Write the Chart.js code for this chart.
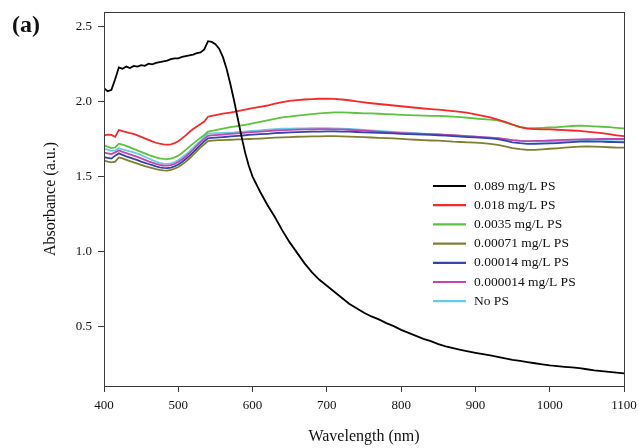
<!DOCTYPE html>
<html>
<head>
<meta charset="utf-8">
<title>Absorbance spectra</title>
<script src="https://cdn.jsdelivr.net/npm/chart.js@4"></script>
<style>
  html, body { margin: 0; padding: 0; background: #fff; }
</style>
</head>
<body>
<canvas id="absChart" width="639" height="448"></canvas>
<script>
// wavelength grid (nm): 5 nm up to 600, then 10 nm
const wavelengths = [
  400, 405, 410, 415, 420, 425, 430, 435, 440, 445, 450, 455, 460, 465, 470, 475, 480, 485, 490, 495,
  500, 505, 510, 515, 520, 525, 530, 535, 540, 545, 550, 555, 560, 565, 570, 575, 580, 585, 590, 595, 600,
  610, 620, 630, 640, 650, 660, 670, 680, 690, 700,
  710, 720, 730, 740, 750, 760, 770, 780, 790, 800,
  810, 820, 830, 840, 850, 860, 870, 880, 890, 900,
  910, 920, 930, 940, 950, 960, 970, 980, 990, 1000,
  1010, 1020, 1030, 1040, 1050, 1060, 1070, 1080, 1090, 1100
];

const seriesNames = ['0.089 mg/L PS', '0.018 mg/L PS', '0.0035 mg/L PS', '0.00071 mg/L PS',
  '0.00014 mg/L PS', '0.000014 mg/L PS', 'No PS'];

const ps0089 = [
  2.09, 2.07, 2.08, 2.15, 2.23, 2.22, 2.235, 2.225, 2.24, 2.235, 2.245, 2.24, 2.255, 2.25, 2.26, 2.265, 2.27, 2.275, 2.285, 2.29,
  2.29, 2.30, 2.305, 2.31, 2.315, 2.325, 2.33, 2.35, 2.405, 2.40, 2.385, 2.355, 2.30, 2.22, 2.12, 2.01, 1.89, 1.77, 1.66, 1.57, 1.50,
  1.40, 1.31, 1.23, 1.14, 1.06, 0.99, 0.92, 0.86, 0.81, 0.77,
  0.73, 0.69, 0.65, 0.62, 0.59, 0.565, 0.545, 0.52, 0.50, 0.475,
  0.455, 0.435, 0.415, 0.40, 0.38, 0.365, 0.353, 0.342, 0.332, 0.322,
  0.313, 0.304, 0.295, 0.285, 0.275, 0.268, 0.26, 0.252, 0.245, 0.238,
  0.233, 0.228, 0.224, 0.219, 0.212, 0.205, 0.20, 0.195, 0.19, 0.185
];
const ps0018 = [
  1.775, 1.78, 1.778, 1.765, 1.81, 1.803, 1.797, 1.79, 1.785, 1.775, 1.765, 1.755, 1.745, 1.735, 1.726, 1.72, 1.715, 1.713, 1.715, 1.724,
  1.736, 1.755, 1.775, 1.798, 1.818, 1.835, 1.851, 1.868, 1.90, 1.905, 1.91, 1.915, 1.92, 1.924, 1.928, 1.932, 1.937, 1.942, 1.947, 1.952, 1.957,
  1.966, 1.975, 1.987, 1.998, 2.006, 2.011, 2.015, 2.018, 2.02, 2.02,
  2.019, 2.015, 2.01, 2.003, 1.996, 1.99, 1.985, 1.98, 1.975, 1.97,
  1.965, 1.96, 1.955, 1.951, 1.947, 1.942, 1.937, 1.932, 1.925, 1.915,
  1.905, 1.895, 1.88, 1.865, 1.848, 1.83, 1.82, 1.817, 1.815, 1.815,
  1.813, 1.811, 1.808, 1.805, 1.80, 1.795, 1.79, 1.783, 1.776, 1.77
];
const ps00035 = [
  1.707, 1.70, 1.69, 1.695, 1.72, 1.714, 1.705, 1.695, 1.685, 1.675, 1.665, 1.655, 1.645, 1.636, 1.628, 1.622, 1.618, 1.617, 1.62, 1.628,
  1.64, 1.658, 1.678, 1.70, 1.72, 1.74, 1.76, 1.778, 1.80, 1.805, 1.81, 1.815, 1.82, 1.825, 1.83, 1.834, 1.838, 1.842, 1.846, 1.85, 1.855,
  1.865, 1.876, 1.886, 1.895, 1.901, 1.907, 1.912, 1.917, 1.922, 1.926,
  1.929, 1.929, 1.927, 1.925, 1.923, 1.922, 1.92, 1.918, 1.915, 1.913,
  1.911, 1.909, 1.907, 1.906, 1.905, 1.903, 1.90, 1.897, 1.893, 1.888,
  1.884, 1.88, 1.875, 1.862, 1.846, 1.832, 1.824, 1.823, 1.825, 1.828,
  1.83, 1.834, 1.838, 1.84, 1.839, 1.836, 1.833, 1.83, 1.826, 1.822
];
const ps000071 = [
  1.607, 1.60, 1.595, 1.60, 1.628, 1.621, 1.612, 1.603, 1.595, 1.587, 1.578, 1.57, 1.563, 1.556, 1.549, 1.544, 1.541, 1.54, 1.544, 1.552,
  1.564, 1.58, 1.60, 1.621, 1.645, 1.67, 1.695, 1.716, 1.737, 1.74, 1.742, 1.743, 1.744, 1.745, 1.746, 1.747, 1.748, 1.749, 1.75, 1.751, 1.752,
  1.754, 1.757, 1.76, 1.762, 1.764, 1.766, 1.767, 1.768, 1.769, 1.77,
  1.77, 1.769, 1.767, 1.765, 1.763, 1.761, 1.759, 1.757, 1.755, 1.752,
  1.749, 1.746, 1.743, 1.741, 1.74, 1.737, 1.733, 1.731, 1.729, 1.727,
  1.723, 1.718, 1.712, 1.702, 1.69, 1.683, 1.678, 1.678, 1.682, 1.686,
  1.689, 1.693, 1.697, 1.70, 1.702, 1.70, 1.698, 1.696, 1.694, 1.693
];
const ps000014 = [
  1.629, 1.625, 1.62, 1.64, 1.655, 1.645, 1.635, 1.627, 1.618, 1.61, 1.60, 1.592, 1.584, 1.576, 1.568, 1.562, 1.558, 1.557, 1.56, 1.568,
  1.58, 1.597, 1.617, 1.638, 1.662, 1.687, 1.712, 1.735, 1.755, 1.758, 1.76, 1.762, 1.764, 1.766, 1.768, 1.77, 1.772, 1.774, 1.776, 1.778, 1.78,
  1.783, 1.786, 1.79, 1.793, 1.795, 1.797, 1.799, 1.80, 1.801, 1.802,
  1.802, 1.801, 1.80, 1.798, 1.796, 1.794, 1.792, 1.79, 1.788, 1.786,
  1.784, 1.782, 1.78, 1.778, 1.776, 1.773, 1.77, 1.767, 1.764, 1.762,
  1.759, 1.755, 1.75, 1.74, 1.729, 1.723, 1.719, 1.718, 1.72, 1.722,
  1.724, 1.727, 1.73, 1.733, 1.735, 1.734, 1.733, 1.731, 1.73, 1.729
];
const ps0000014 = [
  1.66, 1.655, 1.65, 1.662, 1.675, 1.665, 1.657, 1.648, 1.64, 1.632, 1.622, 1.612, 1.602, 1.593, 1.585, 1.578, 1.574, 1.573, 1.576, 1.585,
  1.597, 1.614, 1.634, 1.656, 1.68, 1.705, 1.73, 1.752, 1.772, 1.775, 1.777, 1.779, 1.781, 1.783, 1.785, 1.787, 1.789, 1.791, 1.793, 1.795, 1.797,
  1.80, 1.804, 1.808, 1.81, 1.812, 1.814, 1.815, 1.816, 1.817, 1.817,
  1.816, 1.815, 1.813, 1.81, 1.807, 1.804, 1.80, 1.797, 1.794, 1.791,
  1.789, 1.787, 1.785, 1.783, 1.781, 1.779, 1.776, 1.773, 1.77, 1.767,
  1.764, 1.76, 1.756, 1.75, 1.743, 1.738, 1.737, 1.738, 1.739, 1.741,
  1.743, 1.745, 1.747, 1.749, 1.75, 1.75, 1.751, 1.751, 1.751, 1.751
];
const noPS = [
  1.685, 1.68, 1.672, 1.675, 1.69, 1.682, 1.675, 1.668, 1.662, 1.654, 1.643, 1.632, 1.621, 1.61, 1.60, 1.592, 1.587, 1.585, 1.588, 1.597,
  1.61, 1.627, 1.647, 1.668, 1.692, 1.716, 1.74, 1.765, 1.787, 1.789, 1.79, 1.791, 1.792, 1.793, 1.794, 1.795, 1.797, 1.799, 1.801, 1.803, 1.805,
  1.809, 1.813, 1.817, 1.82, 1.821, 1.822, 1.822, 1.823, 1.823, 1.823,
  1.822, 1.82, 1.818, 1.815, 1.812, 1.808, 1.805, 1.802, 1.799, 1.796,
  1.793, 1.79, 1.787, 1.784, 1.781, 1.778, 1.775, 1.772, 1.769, 1.766,
  1.763, 1.76, 1.756, 1.75, 1.744, 1.74, 1.735, 1.733, 1.733, 1.734,
  1.735, 1.736, 1.737, 1.738, 1.739, 1.738, 1.737, 1.736, 1.735, 1.735
];

const xTicks = [400, 500, 600, 700, 800, 900, 1000, 1100];
const yTicks = [0.5, 1.0, 1.5, 2.0, 2.5];

const seriesValues = [ps0089, ps0018, ps00035, ps000071, ps000014, ps0000014, noPS];
const lineColors = ['#000000', '#f42a2a', '#5cc43c', '#7f7f32', '#3444a8', '#c444b4', '#66cde2'];

const serif = '"Liberation Serif", "Times New Roman", serif';
const axisColor = '#3a3a3a';

const datasets = seriesValues.map((vals, i) => ({
  label: seriesNames[i],
  data: wavelengths.map((w, j) => ({ x: w, y: vals[j] })),
  borderColor: lineColors[i],
  borderWidth: 1.8,
  pointRadius: 0,
  tension: 0,
  fill: false
}));

// frame, axis titles, panel letter and legend
const decorations = {
  id: 'decorations',
  afterDraw(chart) {
    const { ctx, chartArea: a } = chart;
    ctx.save();
    ctx.strokeStyle = axisColor;
    ctx.lineWidth = 1;
    ctx.strokeRect(a.left + 0.5, a.top + 0.5, a.right - a.left, a.bottom - a.top);

    ctx.fillStyle = '#111';
    ctx.textAlign = 'center';
    ctx.textBaseline = 'middle';
    ctx.font = '16px ' + serif;
    ctx.fillText('Wavelength (nm)', (a.left + a.right) / 2, 437);

    ctx.save();
    ctx.translate(51, (a.top + a.bottom) / 2);
    ctx.rotate(-Math.PI / 2);
    ctx.fillText('Absorbance (a.u.)', 0, 0);
    ctx.restore();

    ctx.textAlign = 'left';
    ctx.font = 'bold 24px ' + serif;
    ctx.fillText('(a)', 12, 26);

    // legend
    ctx.font = '13.5px ' + serif;
    chart.data.datasets.forEach((ds, i) => {
      const y = 186 + i * 19.2;
      ctx.strokeStyle = ds.borderColor;
      ctx.lineWidth = 2.2;
      ctx.beginPath();
      ctx.moveTo(433, y);
      ctx.lineTo(466, y);
      ctx.stroke();
      ctx.fillStyle = '#111';
      ctx.fillText(ds.label, 474, y);
    });
    ctx.restore();
  }
};

new Chart(document.getElementById('absChart'), {
  type: 'line',
  data: { datasets },
  options: {
    responsive: false,
    animation: false,
    layout: { padding: { top: 12, right: 15, left: 0, bottom: 0 } },
    plugins: { legend: { display: false }, tooltip: { enabled: false } },
    scales: {
      x: {
        type: 'linear',
        min: 400,
        max: 1100,
        afterBuildTicks: s => { s.ticks = xTicks.map(v => ({ value: v })); },
        afterFit: s => { s.height = 62; s.paddingLeft = 0; s.paddingRight = 0; },
        ticks: { color: '#111', font: { family: serif, size: 13 }, padding: 6, maxRotation: 0,
          callback: v => String(v) },
        grid: { drawOnChartArea: false, tickLength: 6, color: axisColor },
        border: { color: axisColor }
      },
      y: {
        min: 0.1,
        max: 2.6,
        afterBuildTicks: s => { s.ticks = yTicks.map(v => ({ value: v })); },
        afterFit: s => { s.width = 104; s.paddingTop = 0; s.paddingBottom = 0; },
        ticks: { color: '#111', font: { family: serif, size: 13 }, padding: 6,
          callback: v => v.toFixed(1) },
        grid: { drawOnChartArea: false, tickLength: 6, color: axisColor },
        border: { color: axisColor }
      }
    }
  },
  plugins: [decorations]
});
</script>
</body>
</html>
